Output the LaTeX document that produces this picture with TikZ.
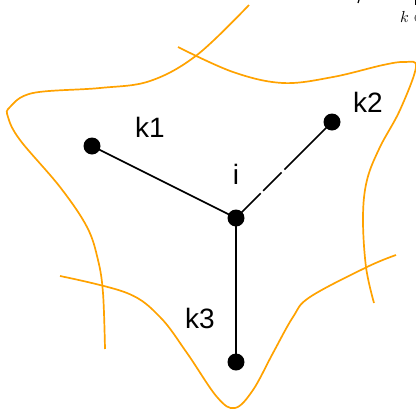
\documentclass[tikz,border=0pt]{standalone}
\usepackage{fontspec}
\setmainfont{Liberation Sans}
\definecolor{curveorange}{RGB}{255,162,0}
\begin{document}
\begin{tikzpicture}[x=1pt,y=-1pt,
  dot/.style={circle,fill=black,inner sep=0pt,minimum size=17pt},
  lbl/.style={font=\fontsize{28}{30}\selectfont,inner sep=0pt},
  edge/.style={line width=1.6pt,black},
  cut/.style={line width=1.7pt,curveorange}]
\useasboundingbox (0,0) rectangle (416,408);
% orange cuts
\draw[cut] plot[smooth,tension=0.6] coordinates {(249,5) (197,55) (150,81) (100,88) (33,93) (10,107) (8,117) (20,140) (60,187) (87,227) (98,260) (103,293) (105,349)};
\draw[cut] plot[smooth,tension=0.6] coordinates {(178,47) (233,72) (283,83) (333,77) (383,65) (405,62) (416,67) (400,110) (380,147) (367,180) (363,217) (366,267) (374,303)};
\draw[cut] plot[smooth,tension=0.6] coordinates {(396,255) (367,267) (310,297) (293,317) (273,353) (253,390) (235,408) (217,397) (187,353) (160,317) (127,293) (60,276)};
% nodes
\node[dot] (k1) at (92,146) {};
\node[dot] (k2) at (332,122) {};
\node[dot] (i) at (236,218) {};
\node[dot] (k3) at (236,362) {};
\draw[edge] (i.center) -- (k1.center);
\draw[edge,dash pattern=on 35pt off 3.5pt on 26pt off 4pt on 100pt] (i.center) -- (k2.center);
\draw[edge] (i.center) -- (k3.center);
% labels
\node[lbl] (lk1) at (150,127) {k1};
\node[lbl] (lk2) at (368,102) {k2};
\node[lbl] (li) at (236,174) {i};
\node[lbl] (lk3) at (200,318) {k3};
% fragments of surrounding text
\node[inner sep=0pt,anchor=west] (frag) at (400,17) {\scalebox{1.6}{$k\in$}};
\draw[line width=1pt] (415.5,0) -- (415.5,5);
\draw[line width=1.2pt] (359,0) -- (358,3);
\end{tikzpicture}
\end{document}
